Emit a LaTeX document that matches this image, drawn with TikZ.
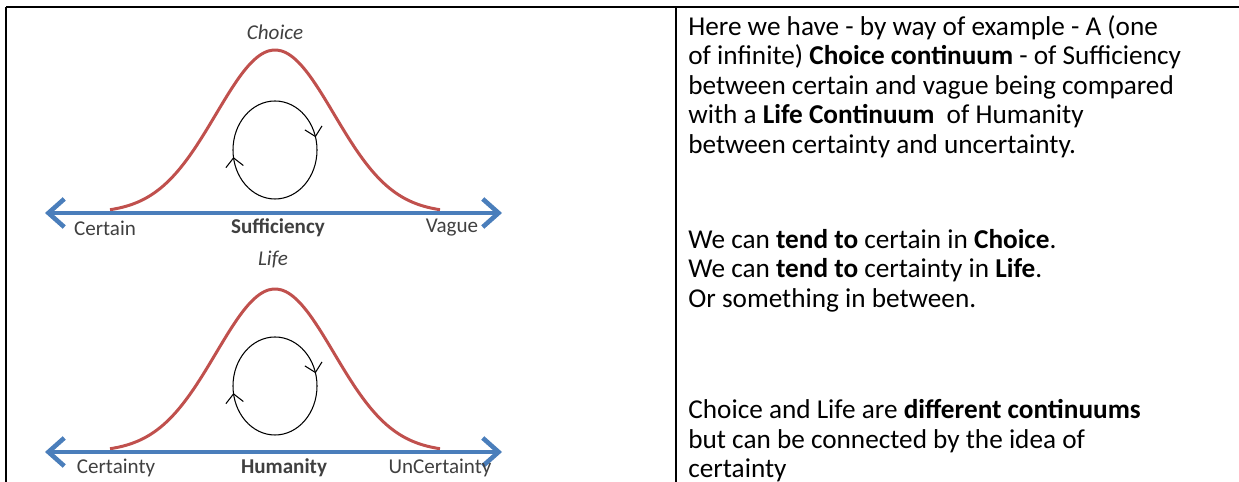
\documentclass[tikz,border=0pt]{standalone}
\usepackage{fontspec}
\setmainfont{Carlito}
\usetikzlibrary{arrows.meta, decorations.markings}
\definecolor{axisblue}{HTML}{4A7EBB}
\definecolor{curvered}{HTML}{C0504D}
\definecolor{labelgray}{HTML}{404040}
\tikzstyle{axisline}=[axisblue, line width=2.6pt, {Straight Barb[length=9pt,width=16pt]}-{Straight Barb[length=9pt,width=16pt]}]
\tikzstyle{bellcurve}=[curvered, line width=1.7pt, smooth, samples=80]
\tikzstyle{cycle}=[line width=0.6pt, decoration={markings,
    mark=at position 0.045 with {\arrowreversed{Straight Barb[length=5pt,width=10pt]}},
    mark=at position 0.525 with {\arrowreversed{Straight Barb[length=5pt,width=10pt]}}}, postaction=decorate]
\tikzstyle{axislabel}=[labelgray, font=\fontsize{12}{14}\selectfont, inner sep=0pt]
\tikzstyle{charttitle}=[axislabel, font=\fontsize{12}{14}\selectfont\itshape]
\tikzstyle{bodytext}=[anchor=north west, inner sep=0pt, align=left, font=\fontsize{15.5}{16.8}\selectfont]

\begin{document}
\begin{tikzpicture}[x=0.02cm, y=0.02cm]
    \useasboundingbox (0,0) rectangle (1239,482);
    % table rules
    \coordinate (TL) at (6,475);
    \coordinate (TR) at (1239,475);
    \coordinate (BL) at (6,0);
    \coordinate (TM) at (676,475);
    \coordinate (BM) at (676,0);
    \draw [line width=0.8pt] (TL) -- (TR);
    \draw [line width=1.2pt] (TL) -- (BL);
    \draw [line width=0.9pt] (TM) -- (BM);
    % Choice / Sufficiency
    \begin{scope}[shift={(0,269)}]
        \coordinate (sl) at (45,0);
        \coordinate (sr) at (502,0);
        \draw [bellcurve] plot [domain=-165:165] ({275+\x}, {163*exp(-0.5*(\x/59)^2)});
        \draw [axisline] (sl) -- (sr);
        \coordinate (sc) at (275,63);
        \draw [cycle] (sc) ellipse [x radius=42, y radius=49];
        \node [charttitle] (choice) at (275,181) {Choice};
        \node [axislabel] (certain) at (105,-15) {Certain};
        \node [axislabel, font=\fontsize{12}{14}\selectfont\bfseries] (suff) at (278,-15) {Sufficiency};
        \node [axislabel] (vague) at (452,-15) {Vague};
    \end{scope}
    % Life / Humanity
    \begin{scope}[shift={(0,30)}]
        \coordinate (hl) at (45,0);
        \coordinate (hr) at (502,0);
        \draw [bellcurve] plot [domain=-165:165] ({275+\x}, {163*exp(-0.5*(\x/59)^2)});
        \draw [axisline] (hl) -- (hr);
        \coordinate (hc) at (275,66);
        \draw [cycle] (hc) ellipse [x radius=42, y radius=49];
        \node [charttitle] (life) at (273,193) {Life};
        \node [axislabel] (certainty) at (116,-16) {Certainty};
        \node [axislabel, font=\fontsize{12}{14}\selectfont\bfseries] (human) at (284,-16) {Humanity};
        \node [axislabel] (uncertainty) at (440,-16) {UnCertainty};
    \end{scope}
    % explanation
    \node [bodytext] (para1) at (688,467) {Here we have - by way of example - A (one\\
        of infinite) \textbf{Choice continuum} - of Sufficiency\\
        between certain and vague being compared\\
        with a \textbf{Life Continuum}\ \ of Humanity\\
        between certainty and uncertainty.};
    \node [bodytext] (para2) at (688,253) {We can \textbf{tend to} certain in \textbf{Choice}.\\
        We can \textbf{tend to} certainty in \textbf{Life}.\\
        Or something in between.};
    \node [bodytext] (para3) at (688,83) {Choice and Life are \textbf{different continuums}\\
        but can be connected by the idea of\\
        certainty};
\end{tikzpicture}
\end{document}
